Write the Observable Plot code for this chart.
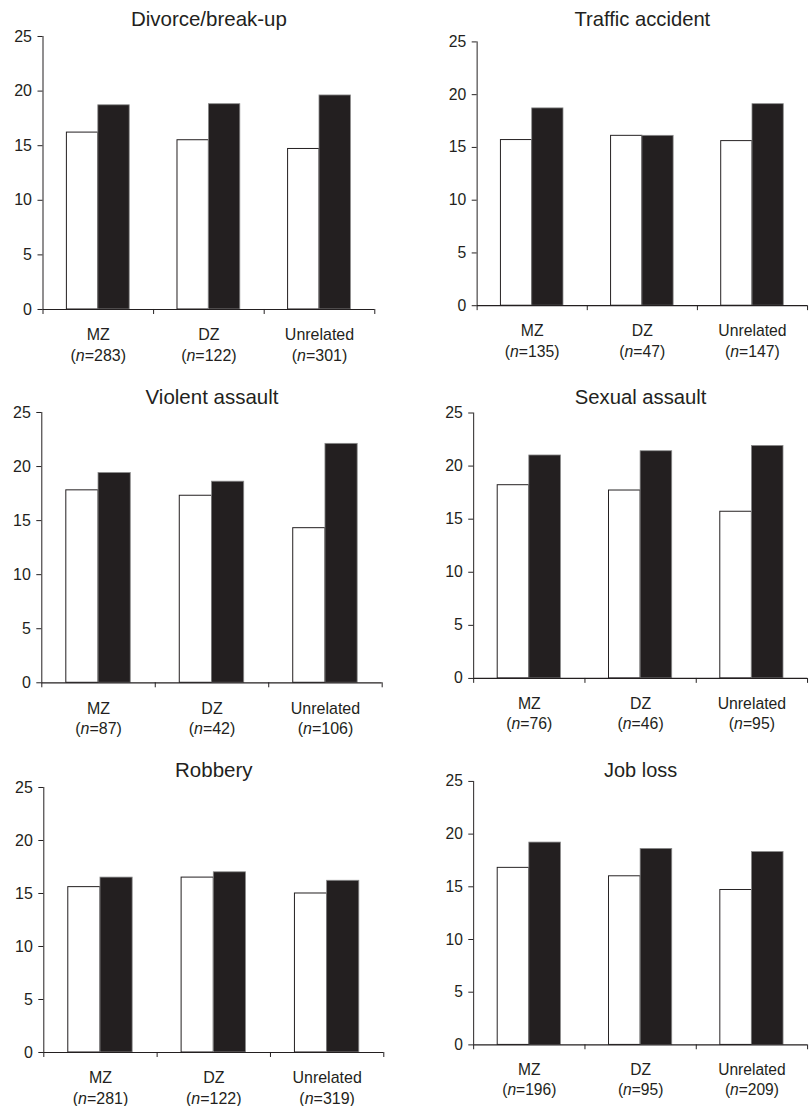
<!DOCTYPE html>
<html>
<head>
<meta charset="utf-8">
<script src="https://cdn.jsdelivr.net/npm/d3@7"></script>
<script src="https://cdn.jsdelivr.net/npm/@observablehq/plot@0.6"></script>
<style>
  html, body { margin: 0; padding: 0; background: #fff; }
  body { width: 811px; height: 1106px; overflow: hidden; position: relative; }
  .panel { position: absolute; }
  .panel svg { overflow: visible; }
</style>
</head>
<body>
<div id="root"></div>
<script>
// ---- Data ----
const panelTitles = ["Divorce/break-up", "Traffic accident", "Violent assault", "Sexual assault", "Robbery", "Job loss"];
const groups = ["MZ", "DZ", "Unrelated"];
const nCounts = [
  [283, 122, 301],
  [135, 47, 147],
  [87, 42, 106],
  [76, 46, 95],
  [281, 122, 319],
  [196, 95, 209]
];
// open (white) bars
const whiteValues = [
  [16.2, 15.5, 14.7],
  [15.7, 16.1, 15.6],
  [17.8, 17.3, 14.3],
  [18.2, 17.7, 15.7],
  [15.6, 16.5, 15.0],
  [16.8, 16.0, 14.7]
];
// filled (black) bars
const blackValues = [
  [18.7, 18.8, 19.6],
  [18.7, 16.1, 19.1],
  [19.4, 18.6, 22.1],
  [21.0, 21.4, 21.9],
  [16.5, 17.0, 16.2],
  [19.2, 18.6, 18.3]
];
const yTicks = [0, 5, 10, 15, 20, 25];

// ---- Layout (styles only) ----
const layout = [
  {left: 0,   axis: 42.5,  right: 374.3, top: 36,    bottom: 309,   tdy: -10},
  {left: 405, axis: 477.7, right: 813,   top: 42.3,  bottom: 310,   tdy: -16},
  {left: 0,   axis: 41.3,  right: 381.7, top: 411.7, bottom: 682,   tdy: -8},
  {left: 405, axis: 474,   right: 812,   top: 413.3, bottom: 682,   tdy: -9},
  {left: 0,   axis: 43.3,  right: 383.3, top: 787.3, bottom: 1052.3, tdy: -10},
  {left: 405, axis: 475,   right: 818,   top: 781.7, bottom: 1052.3, tdy: -5}
];
const BAR = 0.284; // bar width as fraction of group band
const INK = "#231f20";
const FONT = "'Liberation Sans', Arial, Helvetica, sans-serif";

const root = document.getElementById("root");

layout.forEach((L, i) => {
  const data = groups.flatMap((g, j) => [
    {group: g, idx: j, series: "open", value: whiteValues[i][j]},
    {group: g, idx: j, series: "filled", value: blackValues[i][j]}
  ]);
  const mt = 40, mb = 60, mr = 4;
  const width = (L.right - L.left) + mr;
  const height = (L.bottom - L.top) + mt + mb;

  const chart = Plot.plot({
    width, height,
    marginLeft: L.axis - L.left,
    marginRight: mr,
    marginTop: mt,
    marginBottom: mb,
    x: {domain: [0, 3]},
    y: {domain: [0, 25]},
    style: {fontFamily: FONT, fontSize: "16px", color: INK, background: "transparent", overflow: "visible"},
    marks: [
      Plot.rect(data.filter(d => d.series === "open"), {
        x1: d => d.idx + 0.5 - BAR, x2: d => d.idx + 0.5,
        y1: 0, y2: "value",
        fill: "#ffffff", stroke: INK, strokeWidth: 1
      }),
      Plot.rect(data.filter(d => d.series === "filled"), {
        x1: d => d.idx + 0.5, x2: d => d.idx + 0.5 + BAR,
        y1: 0, y2: "value",
        fill: INK, stroke: "#8a8a8a", strokeWidth: 0.8
      }),
      Plot.ruleX([0], {stroke: INK, strokeWidth: 1}),
      Plot.ruleY([0], {stroke: INK, strokeWidth: 1.2}),
      Plot.axisY({ticks: yTicks, tickSize: 5, tickPadding: 6, label: null, stroke: INK, fill: INK, fontSize: 16}),
      Plot.axisX({ticks: [0, 1, 2, 3], tickSize: 5, tickFormat: () => "", label: null, stroke: INK}),
      Plot.axisX({
        ticks: [0.5, 1.5, 2.5], tickSize: 0, tickPadding: 16, label: null, lineHeight: 1.3,
        fill: INK, fontSize: 16,
        tickFormat: t => `${groups[Math.floor(t)]}\n(n=${nCounts[i][Math.floor(t)]})`
      }),
      Plot.text([panelTitles[i]], {frameAnchor: "top", lineAnchor: "bottom", dy: L.tdy, fontSize: 20.5, fill: INK})
    ]
  });

  // italicise the "n" in "(n=...)"
  d3.select(chart).selectAll("tspan").each(function () {
    const t = this.textContent;
    const m = /^\(n=(.*)\)$/.exec(t);
    if (m) {
      const sel = d3.select(this);
      sel.text("(");
      sel.append("tspan").attr("font-style", "italic").text("n");
      sel.append("tspan").text(`=${m[1]})`);
    }
  });

  const div = document.createElement("div");
  div.className = "panel";
  div.style.left = L.left + "px";
  div.style.top = (L.top - mt) + "px";
  div.appendChild(chart);
  root.appendChild(div);
});
</script>
</body>
</html>
